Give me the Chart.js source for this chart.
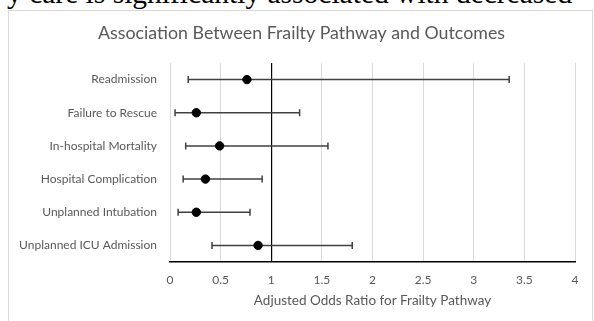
<!DOCTYPE html>
<html>
<head>
<meta charset="utf-8">
<script src="https://cdn.jsdelivr.net/npm/chart.js@4/dist/chart.umd.min.js"></script>
<style>
html,body{margin:0;padding:0;background:#fff;width:594px;height:321px;overflow:hidden;position:relative;}
#frame{position:absolute;left:8px;top:10px;width:585px;height:330px;border:1px solid #d9d9d9;box-sizing:border-box;}
#head{position:absolute;left:7px;top:-21px;font-family:"Liberation Serif","DejaVu Serif",serif;font-size:29.5px;color:#000;white-space:nowrap;line-height:29.5px;}
#wrap{position:absolute;left:0;top:0;width:594px;height:321px;}
</style>
</head>
<body>
<div id="head">y care is significantly associated with decreased</div>
<div id="frame"></div>
<div id="wrap"><canvas id="c" width="594" height="321"></canvas></div>
<script>
const categories = ["Readmission","Failure to Rescue","In-hospital Mortality","Hospital Complication","Unplanned Intubation","Unplanned ICU Admission"];
const oddsRatio = [0.76, 0.26, 0.49, 0.35, 0.26, 0.87];
const lowerCI  = [0.18, 0.05, 0.155, 0.13, 0.08, 0.415];
const upperCI  = [3.35, 1.28, 1.56, 0.91, 0.79, 1.80];
const xTicks = [0, 0.5, 1, 1.5, 2, 2.5, 3, 3.5, 4];
const chartTitle = "Association Between Frailty Pathway and Outcomes";
const xAxisTitle = "Adjusted Odds Ratio for Frailty Pathway";

const FONT = "Lato, 'Open Sans', sans-serif";
const GRAY = "#595959";

const errorBars = {
  id: 'errorBars',
  beforeDatasetsDraw(chart) {
    const {ctx, scales:{x, y}} = chart;
    ctx.save();
    ctx.strokeStyle = '#404040';
    ctx.lineWidth = 1.5;
    categories.forEach((c, i) => {
      const py = y.getPixelForValue(i);
      const x1 = x.getPixelForValue(lowerCI[i]);
      const x2 = x.getPixelForValue(upperCI[i]);
      ctx.beginPath();
      ctx.moveTo(x1, py); ctx.lineTo(x2, py);
      ctx.moveTo(x1, py - 3.5); ctx.lineTo(x1, py + 3.5);
      ctx.moveTo(x2, py - 3.5); ctx.lineTo(x2, py + 3.5);
      ctx.stroke();
    });
    ctx.restore();
  }
};

const frameTitle = {
  id: 'frameTitle',
  afterDraw(chart) {
    const {ctx} = chart;
    ctx.save();
    ctx.fillStyle = GRAY;
    ctx.font = "17.8px " + FONT;
    ctx.textAlign = 'center';
    ctx.textBaseline = 'middle';
    ctx.fillText(chartTitle, 301.5, 33);
    ctx.restore();
  }
};

new Chart(document.getElementById('c'), {
  type: 'scatter',
  data: {
    labels: categories,
    datasets: [{
      data: categories.map((c, i) => ({x: oddsRatio[i], y: c})),
      backgroundColor: '#000',
      borderColor: '#000',
      pointRadius: 4.2,
      pointHoverRadius: 4.2
    }]
  },
  options: {
    responsive: false,
    animation: false,
    devicePixelRatio: 1,
    layout: {padding: {top: 63, left: 0, right: 19, bottom: 9}},
    plugins: {
      legend: {display: false},
      tooltip: {enabled: false},
      title: {display: false}
    },
    scales: {
      x: {
        type: 'linear',
        min: 0, max: 4,
        afterBuildTicks(scale) { scale.ticks = xTicks.map(v => ({value: v})); },
        afterFit(scale) { scale.height = 50; },
        ticks: {color: GRAY, font: {family: FONT, size: 12}, padding: 11, maxRotation: 0,
                callback: v => String(v)},
        grid: {
          drawTicks: false,
          color: ctx => (ctx.tick && ctx.tick.value === 1) ? '#000' : '#d9d9d9',
          lineWidth: ctx => (ctx.tick && ctx.tick.value === 1) ? 1.2 : 1
        },
        border: {display: true, color: '#000', width: 1.5},
        title: {display: true, text: xAxisTitle, color: GRAY, font: {family: FONT, size: 13.5}, padding: {top: 4, bottom: 3}}
      },
      y: {
        type: 'category',
        labels: categories,
        offset: true,
        afterFit(scale) { scale.width = 170; },
        ticks: {color: GRAY, font: {family: FONT, size: 12}, padding: 13},
        grid: {display: false, drawTicks: false},
        border: {display: false}
      }
    }
  },
  plugins: [errorBars, frameTitle]
});
</script>
</body>
</html>
